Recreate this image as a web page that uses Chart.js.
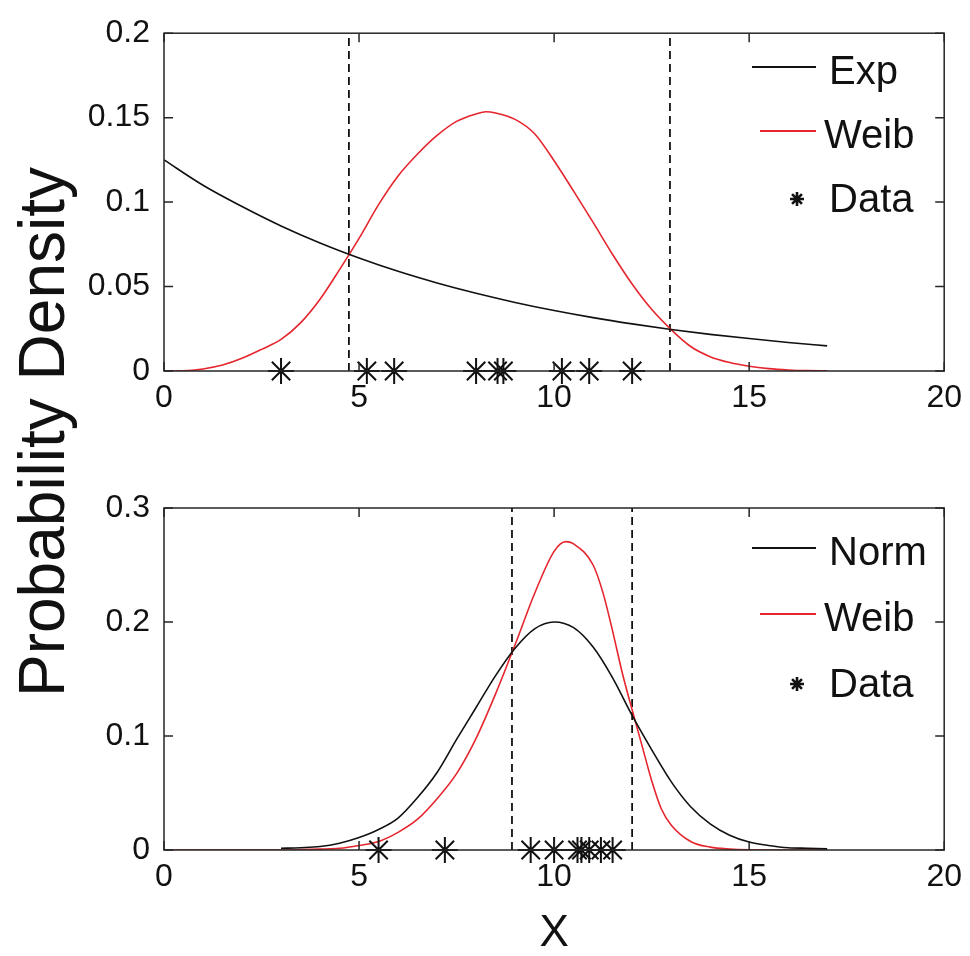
<!DOCTYPE html>
<html>
<head>
<meta charset="utf-8">
<title>Probability Density</title>
<script src="https://cdn.jsdelivr.net/npm/chart.js@4.4.0/dist/chart.umd.min.js"></script>
<style>
    html, body { margin: 0; padding: 0; background: #fff; overflow: hidden; }
    #wrap { position: relative; width: 970px; height: 956px; }
    #topChart { position: absolute; left: 0; top: 0; }
    #bottomChart { position: absolute; left: 0; top: 460px; }
    #yTitle {
        position: absolute; left: 42px; top: 432px;
        transform: translate(-50%, -50%) rotate(-90deg);
        font: 64px "Liberation Sans", Arial, sans-serif;
        line-height: 1; white-space: nowrap; color: #111;
    }
</style>
</head>
<body>
<div id="wrap">
    <canvas id="topChart" width="970" height="430"></canvas>
    <canvas id="bottomChart" width="970" height="496"></canvas>
    <div id="yTitle">Probability Density</div>
</div>
<script>
// ---- data ----
const xTicks = [0, 5, 10, 15, 20];
const topYTicks = [0, 0.05, 0.1, 0.15, 0.2];
const bottomYTicks = [0, 0.1, 0.2, 0.3];

// top panel
const topExpX = [0, 1, 2, 3, 4, 5, 6, 7, 8, 9, 10, 11, 12, 13, 14, 15, 16, 17];
const topExpY = [0.125, 0.110, 0.0974, 0.0859, 0.0758, 0.0669, 0.0590, 0.0521, 0.0460,
                 0.0406, 0.0358, 0.0316, 0.0279, 0.0246, 0.0217, 0.0192, 0.0169, 0.0149];
const topWeibX = [0, 0.5, 1, 1.5, 2, 2.5, 3, 3.5, 4, 4.5, 5, 5.5, 6, 6.5, 7, 7.5, 8, 8.25, 8.5,
                  9, 9.5, 10, 10.5, 11, 11.5, 12, 12.5, 13, 13.5, 14, 14.5, 15, 15.5, 16, 16.5, 17];
const topWeibY = [0, 0.0001, 0.0012, 0.0035, 0.0075, 0.0128, 0.0187, 0.0285, 0.0425, 0.0600,
                  0.0785, 0.0985, 0.1155, 0.1285, 0.1395, 0.1478, 0.1522, 0.1535, 0.1528, 0.1490,
                  0.1405, 0.1245, 0.1065, 0.0880, 0.0690, 0.0515, 0.0365, 0.0245, 0.0145, 0.0085,
                  0.0050, 0.0028, 0.0014, 0.0006, 0.0002, 0.0001];
const topDataX = [3.0, 5.2, 5.9, 8.0, 8.55, 8.7, 10.2, 10.9, 12.0];
const topCutoffs = [4.74, 12.97];
const topLabels = ['Exp', 'Weib', 'Data'];

// bottom panel
const bottomNormX = [3, 3.5, 4, 4.5, 5, 5.5, 6, 6.5, 7, 7.5, 8, 8.5, 9, 9.5, 10, 10.5,
                     11, 11.5, 12, 12.5, 13, 13.5, 14, 14.5, 15, 15.5, 16, 16.5, 17];
const bottomNormY = [0.0015, 0.002, 0.003, 0.006, 0.011, 0.018, 0.028, 0.046, 0.068, 0.097,
                     0.125, 0.153, 0.177, 0.194, 0.200, 0.195, 0.178, 0.151, 0.118, 0.088,
                     0.060, 0.038, 0.023, 0.013, 0.007, 0.004, 0.002, 0.0015, 0.001];
const bottomWeibX = [0, 1, 2, 3, 3.5, 4, 4.5, 5, 5.5, 6, 6.5, 7, 7.5, 8, 8.5, 9, 9.5, 10,
                     10.3, 10.5, 11, 11.25, 11.5, 11.75, 12, 12.25, 12.5, 12.75, 13, 13.5,
                     14, 14.5, 15, 16, 17];
const bottomWeibY = [0, 0, 0, 0, 0.0003, 0.0008, 0.0015, 0.004, 0.0075, 0.0155, 0.027, 0.045,
                     0.067, 0.098, 0.137, 0.180, 0.225, 0.262, 0.2705, 0.2685, 0.250, 0.226,
                     0.192, 0.155, 0.123, 0.092, 0.061, 0.036, 0.022, 0.0075, 0.0025, 0.0008,
                     0.0002, 0, 0];
const bottomDataX = [5.5, 7.2, 9.4, 10.0, 10.6, 10.7, 10.9, 11.2, 11.5];
const bottomCutoffs = [8.92, 12.0];
const bottomLabels = ['Norm', 'Weib', 'Data'];

const BLACK = '#111111';
const RED = '#e5262e';
const FONT = '"Liberation Sans", Arial, sans-serif';

Chart.defaults.font.family = FONT;
Chart.defaults.color = BLACK;

const toPoints = (xs, ys) => xs.map((x, i) => ({ x: x, y: ys[i] }));

// box, inward ticks on all four sides, and a MATLAB-like legend inside the axes
const frameAndLegend = {
    id: 'frameAndLegend',
    afterDatasetsDraw(chart, args, opts) {
        const { ctx, chartArea: a, scales } = chart;
        const xs = scales.x, ys = scales.y;
        ctx.save();
        ctx.strokeStyle = '#262626';
        ctx.lineWidth = 1.5;
        ctx.strokeRect(a.left, a.top, a.right - a.left, a.bottom - a.top);

        const len = 9;
        ctx.beginPath();
        xs.ticks.forEach(t => {
            const px = xs.getPixelForValue(t.value);
            ctx.moveTo(px, a.bottom); ctx.lineTo(px, a.bottom - len);
            ctx.moveTo(px, a.top); ctx.lineTo(px, a.top + len);
        });
        ys.ticks.forEach(t => {
            const py = ys.getPixelForValue(t.value);
            ctx.moveTo(a.left, py); ctx.lineTo(a.left + len, py);
            ctx.moveTo(a.right, py); ctx.lineTo(a.right - len, py);
        });
        ctx.stroke();

        // legend
        ctx.font = '40px ' + FONT;
        ctx.textBaseline = 'middle';
        ctx.textAlign = 'left';
        opts.labels.forEach((label, i) => {
            const rowY = opts.top + i * opts.step;
            if (i < 2) {
                ctx.strokeStyle = i === 0 ? BLACK : RED;
                ctx.lineWidth = 1.8;
                ctx.beginPath();
                ctx.moveTo(i === 0 ? 752 : 760, rowY - 4);
                ctx.lineTo(816, rowY - 4);
                ctx.stroke();
            } else {
                // small asterisk marker
                ctx.strokeStyle = BLACK;
                ctx.lineWidth = 2.6;
                ctx.beginPath();
                for (let k = 0; k < 4; k++) {
                    const ang = k * Math.PI / 4;
                    const r = 7;
                    ctx.moveTo(797 - Math.cos(ang) * r, rowY - Math.sin(ang) * r);
                    ctx.lineTo(797 + Math.cos(ang) * r, rowY + Math.sin(ang) * r);
                }
                ctx.stroke();
            }
            ctx.fillStyle = BLACK;
            ctx.fillText(label, i === 1 ? 824 : 829, rowY + 2);
        });
        ctx.restore();
    }
};

function cutoffDatasets(cutoffs, yMax) {
    return cutoffs.map(c => ({
        type: 'line',
        data: [{ x: c, y: 0 }, { x: c, y: yMax }],
        borderColor: BLACK,
        borderWidth: 1.8,
        borderDash: [8, 5],
        pointRadius: 0
    }));
}

function makeChart(canvasId, cfg) {
    const yMax = cfg.yTicks[cfg.yTicks.length - 1];
    const datasets = [
        {
            type: 'scatter',
            data: cfg.dataX.map(x => ({ x: x, y: 0 })),
            pointStyle: 'star',
            pointRadius: 13,
            borderColor: BLACK,
            borderWidth: 2,
            clip: false
        },
        {
            type: 'line',
            data: toPoints(cfg.curveAX, cfg.curveAY),
            borderColor: BLACK,
            borderWidth: 1.6,
            pointRadius: 0,
            cubicInterpolationMode: 'monotone'
        },
        {
            type: 'line',
            data: toPoints(cfg.curveBX, cfg.curveBY),
            borderColor: RED,
            borderWidth: 1.6,
            pointRadius: 0,
            cubicInterpolationMode: 'monotone'
        }
    ].concat(cutoffDatasets(cfg.cutoffs, yMax));

    return new Chart(document.getElementById(canvasId), {
        type: 'scatter',
        data: { datasets: datasets },
        plugins: [frameAndLegend],
        options: {
            responsive: false,
            animation: false,
            events: [],
            layout: { padding: { top: cfg.padTop, right: 25, left: 0, bottom: 0 } },
            plugins: {
                legend: { display: false },
                tooltip: { enabled: false },
                frameAndLegend: { labels: cfg.labels, top: cfg.legendTop, step: cfg.legendStep }
            },
            scales: {
                x: {
                    type: 'linear',
                    min: xTicks[0],
                    max: xTicks[xTicks.length - 1],
                    afterBuildTicks: scale => { scale.ticks = xTicks.map(v => ({ value: v })); },
                    afterFit: scale => { scale.height = cfg.xAxisHeight; },
                    grid: { display: false, drawTicks: false },
                    border: { display: false },
                    ticks: { font: { size: 32 }, padding: 8, maxRotation: 0, color: BLACK },
                    title: cfg.xTitle
                        ? { display: true, text: cfg.xTitle, font: { size: 44, lineHeight: 1.0 }, padding: { top: 0, bottom: 0 }, color: BLACK }
                        : { display: false }
                },
                y: {
                    type: 'linear',
                    min: cfg.yTicks[0],
                    max: yMax,
                    afterBuildTicks: scale => { scale.ticks = cfg.yTicks.map(v => ({ value: v })); },
                    afterFit: scale => { scale.width = 164; },
                    grid: { display: false, drawTicks: false },
                    border: { display: false },
                    ticks: {
                        font: { size: 32 },
                        padding: 14,
                        color: BLACK,
                        callback: v => String(+v.toFixed(2))
                    }
                }
            }
        }
    });
}

makeChart('topChart', {
    yTicks: topYTicks,
    dataX: topDataX,
    curveAX: topExpX, curveAY: topExpY,
    curveBX: topWeibX, curveBY: topWeibY,
    cutoffs: topCutoffs,
    labels: topLabels,
    padTop: 31,
    xAxisHeight: 59,
    legendTop: 71,
    legendStep: 64
});

makeChart('bottomChart', {
    yTicks: bottomYTicks,
    dataX: bottomDataX,
    curveAX: bottomNormX, curveAY: bottomNormY,
    curveBX: bottomWeibX, curveBY: bottomWeibY,
    cutoffs: bottomCutoffs,
    labels: bottomLabels,
    padTop: 48,
    xAxisHeight: 106,
    xTitle: 'X',
    legendTop: 92,
    legendStep: 66
});
</script>
</body>
</html>
